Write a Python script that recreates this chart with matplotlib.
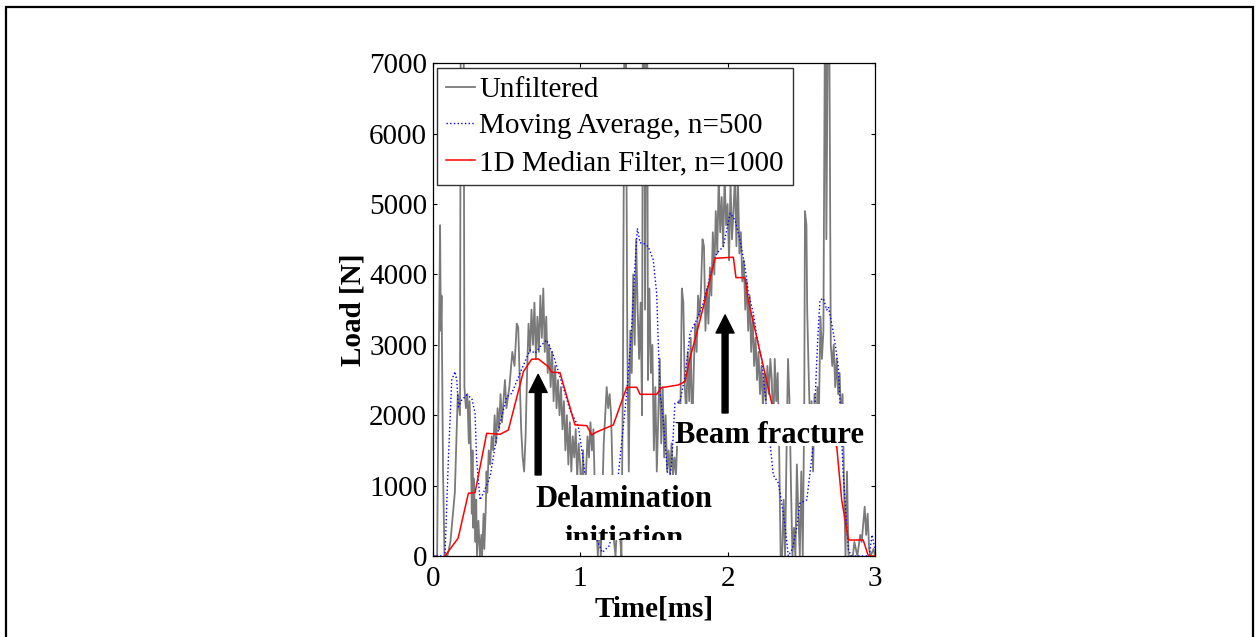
import numpy as np
import matplotlib
matplotlib.use("Agg")
import matplotlib.pyplot as plt
from matplotlib.patches import Rectangle
from matplotlib.transforms import Bbox, TransformedBbox

plt.rcParams['font.family'] = ['Liberation Serif', 'DejaVu Serif']

# unfiltered load signal (time in ms, load in N)
raw_t = [0.00, 0.03, 0.04, 0.05, 0.055, 0.06, 0.07, 0.08, 0.10, 0.12, 0.15, 0.17, 0.185, 0.19,
         0.20, 0.21, 0.215, 0.225, 0.235, 0.245, 0.25, 0.26, 0.265, 0.27, 0.275, 0.28, 0.29,
         0.295, 0.30, 0.31, 0.32, 0.33, 0.335, 0.345, 0.35, 0.36, 0.365, 0.37, 0.38, 0.39,
         0.40, 0.41, 0.42, 0.43, 0.44, 0.45, 0.46, 0.47, 0.48, 0.49, 0.50, 0.52, 0.54, 0.555,
         0.57, 0.58, 0.59, 0.60, 0.61, 0.62, 0.63, 0.64, 0.65, 0.66, 0.67, 0.68, 0.69, 0.70,
         0.71, 0.72, 0.73, 0.74, 0.75, 0.76, 0.77, 0.78, 0.79, 0.80, 0.81, 0.82, 0.83, 0.84,
         0.85, 0.86, 0.87, 0.88, 0.89, 0.90, 0.91, 0.92, 0.93, 0.94, 0.95, 0.96, 0.97, 0.98,
         0.99, 1.00, 1.01, 1.02, 1.03, 1.04, 1.05, 1.06, 1.07, 1.08, 1.09, 1.10, 1.12, 1.13,
         1.14, 1.16, 1.18, 1.19, 1.20, 1.21, 1.22, 1.23, 1.24, 1.26, 1.27, 1.28, 1.29, 1.30,
         1.31, 1.32, 1.33, 1.34, 1.35, 1.36, 1.37, 1.38, 1.39, 1.40, 1.41, 1.42, 1.425, 1.435,
         1.44, 1.45, 1.455, 1.46, 1.47, 1.48, 1.49, 1.50, 1.51, 1.52, 1.53, 1.54, 1.55, 1.56,
         1.57, 1.58, 1.59, 1.60, 1.61, 1.62, 1.63, 1.64, 1.65, 1.66, 1.67, 1.68, 1.69, 1.70,
         1.71, 1.72, 1.73, 1.74, 1.75, 1.76, 1.77, 1.78, 1.79, 1.80, 1.81, 1.82, 1.83, 1.84,
         1.85, 1.86, 1.87, 1.88, 1.89, 1.90, 1.91, 1.92, 1.93, 1.94, 1.95, 1.96, 1.97, 1.98,
         1.99, 2.00, 2.01, 2.02, 2.03, 2.04, 2.05, 2.06, 2.07, 2.08, 2.09, 2.10, 2.11, 2.12,
         2.13, 2.14, 2.15, 2.16, 2.17, 2.18, 2.19, 2.20, 2.21, 2.22, 2.23, 2.24, 2.25, 2.26,
         2.27, 2.28, 2.29, 2.30, 2.31, 2.32, 2.33, 2.34, 2.35, 2.36, 2.37, 2.38, 2.39, 2.40,
         2.41, 2.42, 2.43, 2.44, 2.45, 2.46, 2.47, 2.48, 2.49, 2.50, 2.51, 2.52, 2.525, 2.535,
         2.54, 2.55, 2.56, 2.57, 2.58, 2.59, 2.60, 2.61, 2.62, 2.63, 2.64, 2.65, 2.66, 2.665,
         2.67, 2.68, 2.69, 2.70, 2.71, 2.72, 2.73, 2.74, 2.75, 2.76, 2.77, 2.78, 2.79, 2.80,
         2.81, 2.82, 2.85, 2.86, 2.88, 2.90, 2.91, 2.93, 2.94, 2.95, 2.96, 2.97, 2.99, 3.00]
raw_load = [0, 0, 2600, 4700, 3200, 3700, 1200, 0, 0, 200, 900, 2300, 2000, 7800,
            7800, 7500, 2400, 2100, 2300, 1600, 2200, 1400, 600, 1500, 400, 1100, 200,
            800, 0, 500, 0, 300, 0, 600, 100, 700, 1200, 900, 1500, 1300,
            1700, 1500, 2000, 1600, 2100, 1800, 2300, 1900, 2200, 2500, 2100, 2400, 2900, 2700,
            3300, 3250, 2500, 1800, 1400, 1200, 1700, 2600, 3300, 2900, 3500, 3000, 3600, 2800,
            3400, 2900, 3700, 3100, 3800, 2900, 3400, 2600, 3000, 2400, 2900, 2200, 2700, 2100,
            2500, 2000, 2400, 1800, 2200, 1500, 2000, 1300, 1900, 1200, 1700, 1400, 1800, 1100,
            1600, 1300, 800, 1500, 400, 1200, 1700, 1400, 1900, 1500, 1800, 900, 0, 600,
            0, 1600, 2400, 2100, 2300, 2000, 1100, 200, 0, 900, 300, 0, 2500, 7500,
            7500, 3000, 1200, 3200, 2600, 4000, 3000, 4500, 3500, 2800, 3600, 2000, 7500, 7500,
            3500, 7500, 7500, 2500, 3800, 2600, 3000, 1500, 2400, 1200, 2000, 2800, 1600, 2400,
            1400, 2000, 1200, 1500, 1150, 1600, 1150, 1400, 1150, 1700, 2200, 2000, 3800, 3600,
            2400, 2000, 2900, 2200, 3100, 1700, 2600, 3300, 2900, 3700, 3400, 3800, 4500, 4400,
            3200, 3800, 3300, 4100, 3700, 4600, 4000, 4900, 4300, 5400, 4600, 5100, 4400, 5400,
            4700, 5000, 4200, 5300, 4500, 4900, 5400, 4400, 5400, 4300, 4600, 3900, 4200, 3500,
            3900, 3200, 3700, 2900, 3400, 2700, 3100, 2500, 2900, 2300, 2700, 2100, 2600, 2200,
            2700, 2300, 2800, 2500, 1700, 2800, 2200, 2600, 1500, 0, 0, 800, 0, 1500,
            2800, 2200, 1000, 0, 400, 0, 1300, 600, 0, 1200, 0, 2100, 4900, 4700,
            3500, 2600, 1800, 2200, 1200, 2300, 1600, 2400, 2100, 3400, 2800, 3200, 7500, 7500,
            4500, 7500, 7500, 3000, 2700, 3000, 2400, 2800, 2300, 2600, 1900, 2300, 1000, 0,
            1200, 0, 0, 200, 0, 300, 200, 700, 300, 600, 100, 0, 100, 0]

# moving average, n=500
avg_t = [0.00, 0.083, 0.106, 0.129, 0.151, 0.163, 0.174, 0.197, 0.231, 0.265, 0.287, 0.298,
         0.321, 0.343, 0.389, 0.434, 0.502, 0.536, 0.592, 0.66, 0.694, 0.728, 0.773, 0.818,
         0.863, 0.931, 0.988, 1.02, 1.05, 1.10, 1.15, 1.20, 1.259, 1.316, 1.35, 1.372, 1.388,
         1.406, 1.429, 1.462, 1.496, 1.519, 1.53, 1.542, 1.564, 1.576, 1.60, 1.62, 1.643,
         1.677, 1.711, 1.745, 1.79, 1.835, 1.881, 1.926, 1.971, 2.017, 2.05, 2.084, 2.118,
         2.141, 2.175, 2.198, 2.232, 2.265, 2.288, 2.31, 2.345, 2.367, 2.39, 2.412, 2.44,
         2.47, 2.49, 2.537, 2.559, 2.582, 2.593, 2.605, 2.616, 2.627, 2.65, 2.672, 2.684,
         2.706, 2.729, 2.751, 2.763, 2.775, 2.785, 2.797, 2.808, 2.82, 2.84, 2.96, 2.98, 3.00]
avg_load = [0, 0, 1364, 2500, 2620, 2500, 2120, 2217, 2288, 2240, 2028, 1364,
            796, 891, 1127, 1695, 2263, 2310, 2596, 2927, 2880, 2974, 3069, 2856,
            2548, 2075, 1837, 1364, 900, 300, 50, 150, 1151, 2312, 3258, 4111, 4656,
            4450, 4444, 4395, 4206, 3732, 3022, 2312, 1932, 1600, 1000, 1300, 2170,
            2193, 2548, 3165, 3354, 3590, 3969, 4301, 4395, 4870, 4775, 4490, 4111,
            3732, 3449, 3116, 2785, 2075, 1601, 1151, 1033, 749, 416, 0, 100,
            416, 749, 796, 1175, 1601, 2170, 2785, 3258, 3637, 3660, 3496, 3540,
            3307, 3022, 2690, 2170, 1600, 1141, 796, 416, 85, 0, 0, 300, 100]

# 1D median filter, n=1000
med_t = [0.083, 0.172, 0.242, 0.287, 0.366, 0.457, 0.513, 0.615, 0.671, 0.716, 0.784, 0.807,
         0.863, 0.965, 1.045, 1.078, 1.11, 1.225, 1.316, 1.384, 1.406, 1.519, 1.55, 1.666,
         1.711, 1.745, 1.802, 1.847, 1.915, 2.039, 2.057, 2.118, 2.14, 2.31, 2.45, 2.60,
         2.74, 2.774, 2.82, 2.92, 2.955, 3.00]
med_load = [0, 251, 891, 900, 1743, 1729, 1790, 2619, 2795, 2800, 2690, 2611,
            2605, 1862, 1852, 1720, 1760, 1862, 2397, 2397, 2297, 2297, 2390, 2430,
            2477, 2809, 3258, 3637, 4230, 4245, 3955, 3955, 3637, 2075, 1900, 1750,
            1560, 796, 227, 227, 0, 0]

fig = plt.figure(figsize=(12.59, 6.37), dpi=100)
ax = fig.add_axes([0.3437, 0.1272, 0.3513, 0.7734])

ax.plot(raw_t, raw_load, color='#7a7a7a', lw=1.3, label='Unfiltered', zorder=2)
ax.plot(avg_t, avg_load, color='blue', lw=1.0, ls=':', label='Moving Average, n=500', zorder=3)
ax.plot(med_t, med_load, color='red', lw=1.1, label='1D Median Filter, n=1000', zorder=4)

ax.set_xlim(0, 3)
ax.set_ylim(0, 7000)
ax.set_xticks([0, 1, 2, 3])
ax.set_yticks(np.arange(0, 7001, 1000))
ax.tick_params(direction='in', length=3, width=0.8, labelsize=21, top=True, right=True, pad=4)
ax.tick_params(axis='x', pad=7)
for s in ax.spines.values():
    s.set_linewidth(0.9)

ax.set_xlabel('Time[ms]', fontsize=21, fontweight='bold', labelpad=3)
ax.set_ylabel('Load [N]', fontsize=21, fontweight='bold', labelpad=2)

# white annotation boxes that cover the traces
def white_box(x0, x1, y0, y1):
    r = Rectangle((x0, y0), x1 - x0, y1 - y0, facecolor='white', edgecolor='none', zorder=6)
    ax.add_patch(r)
    return TransformedBbox(Bbox([[x0, y0], [x1, y1]]), ax.transData)

clip1 = white_box(0.66, 1.94, 227, 1151)
for txt, yb in [('Delamination', 696), ('initiation', 128)]:
    t = ax.text(1.30, yb, txt, fontsize=22, fontweight='bold', ha='center', va='baseline', zorder=7)
    t.set_clip_box(clip1)
    t.set_clip_on(True)

clip2 = white_box(1.652, 2.913, 1563, 2160)
t = ax.text(2.285, 1606, 'Beam fracture', fontsize=22, fontweight='bold', ha='center',
            va='baseline', zorder=7)

arrow = dict(facecolor='black', edgecolor='black', width=4.3, headwidth=13, headlength=13)
ax.annotate('', xy=(0.715, 2580), xytext=(0.715, 1151), arrowprops=arrow, zorder=7)
ax.annotate('', xy=(1.983, 3425), xytext=(1.983, 2032), arrowprops=arrow, zorder=7)

leg = ax.legend(loc='upper left', fontsize=21, handlelength=1.0, handletextpad=0.15,
                borderpad=0.3, labelspacing=0.35, borderaxespad=0.15, fancybox=False,
                framealpha=1)
leg.get_frame().set_edgecolor('#333333')
leg.get_frame().set_linewidth(1.0)
leg.set_zorder(10)

# page frame around the figure (bottom edge is cut off)
fig.add_artist(Rectangle((6 / 1259, -0.1), (1253 - 6) / 1259, 1.1 - 7 / 637,
                         transform=fig.transFigure, fill=False, lw=1.6, edgecolor='black'))

fig.savefig('out.png', dpi=100)
